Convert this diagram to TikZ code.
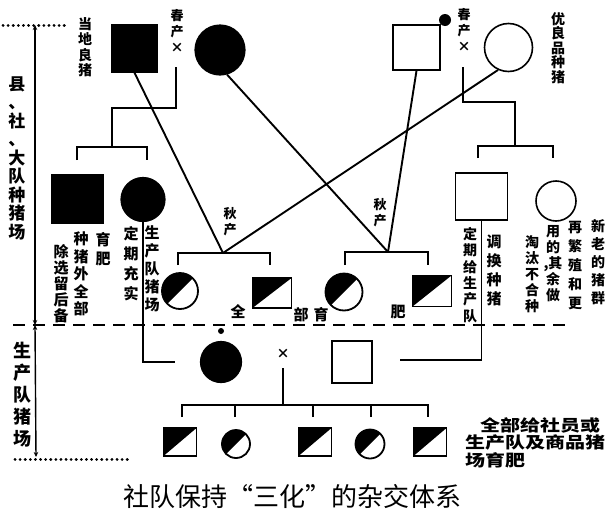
\documentclass[tikz,border=0pt]{standalone}
\usepackage{fontspec}
\setmainfont{Noto Sans CJK SC}
\usepackage{graphicx}
\usetikzlibrary{arrows.meta}
\begin{document}
\begin{tikzpicture}[x=1pt,y=-1pt,
  ln/.style={line width=1.7pt},
  xln/.style={line width=1.9pt},
  blksq/.style={rectangle,fill=black,draw=black,line width=1.5pt,inner sep=0pt},
  whtsq/.style={rectangle,draw=black,fill=white,line width=1.6pt,inner sep=0pt},
  blkci/.style={circle,fill=black,draw=black,line width=1.2pt,inner sep=0pt},
  whtci/.style={circle,draw=black,fill=white,line width=1.6pt,inner sep=0pt},
  halfsq/.style={rectangle,draw=black,line width=1.8pt,inner sep=0pt,
    path picture={\fill[black] (path picture bounding box.south west) -- (path picture bounding box.north west) -- (path picture bounding box.north east) -- cycle;}},
  halfci/.style={circle,draw=black,line width=1.8pt,inner sep=0pt,
    path picture={\fill[black] (path picture bounding box.south west) -- (path picture bounding box.north west) -- (path picture bounding box.north east) -- cycle;}},
  vt/.style={align=center,inner sep=0pt},
  lbl/.style={inner sep=0pt},
  dim/.style={line width=1.4pt,{Stealth[length=5pt,width=4.5pt]}-{Stealth[length=5pt,width=4.5pt]}},
  dotl/.style={line width=3pt,line cap=round,dash pattern=on 0.1pt off 5pt},
  dashline/.style={line width=1.6pt,dash pattern=on 12pt off 8pt}
]
\useasboundingbox (0,0) rectangle (611,517);

% ---------- row 1 ----------
\node[blksq,minimum width=45pt,minimum height=47pt] (A) at (134.5,48.5) {};
\node[blkci,minimum size=50pt] (B) at (220,50) {};
\node[whtsq,minimum width=47pt,minimum height=45pt] (C) at (416.5,47.5) {};
\node[whtci,minimum size=48pt] (D) at (508.5,47.5) {};
\node[circle,fill=black,inner sep=0pt,minimum size=12pt] (dotA) at (445,20) {};

\node[vt,font=\fontsize{14}{15.5}\selectfont\bfseries] (t1) at (85,47) {当\\地\\良\\猪};
\node[vt,font=\fontsize{13}{16}\selectfont\bfseries] (t2) at (177,31) {春\\产\\×};
\node[vt,font=\fontsize{13}{16}\selectfont\bfseries] (t3) at (464,30) {春\\产\\×};
\node[vt,font=\fontsize{14}{14.5}\selectfont\bfseries] (t4) at (558,48) {优\\良\\品\\种\\猪};

% ---------- row 2 ----------
\node[blksq,minimum width=51pt,minimum height=48pt] (E) at (77.5,199) {};
\node[blkci,minimum size=44pt] (F) at (143,199.5) {};
\node[whtsq,minimum width=52pt,minimum height=47pt] (G) at (481.5,196.5) {};
\node[whtci,minimum size=40pt] (H) at (556,201) {};

% left family bracket
\coordinate (lfa) at (176,67);
\coordinate (lfk) at (112,108);
\coordinate (lbj) at (112,147);
\coordinate (lbl) at (77,160);
\coordinate (lbr) at (147,160);
\draw[ln] (lfa) |- (lfk) -- (lbj);
\draw[ln] (lbl) |- (lbj) -| (lbr);

% right family bracket
\coordinate (rfa) at (463,67);
\coordinate (rfk) at (515,102);
\coordinate (rbj) at (515,146);
\coordinate (rbl) at (478,158);
\coordinate (rbr) at (553,158);
\draw[ln] (rfa) |- (rfk) -- (rbj);
\draw[ln] (rbl) |- (rbj) -| (rbr);

% ---------- row 3 ----------
\node[halfci,minimum size=36pt] (I1) at (180,291) {};
\node[halfsq,minimum width=39pt,minimum height=30pt] (I2) at (272,293) {};
\node[halfci,minimum size=37pt] (I3) at (344,292) {};
\node[halfsq,minimum width=39pt,minimum height=31pt] (I4) at (432,291) {};

\coordinate (P) at (223,253);
\coordinate (pl) at (178,265);
\coordinate (pr) at (270,265);
\draw[ln] (pl) |- (P) -| (pr);
\coordinate (Q) at (388,252);
\coordinate (ql) at (345,265);
\coordinate (qr) at (428,265);
\draw[ln] (ql) |- (Q) -| (qr);

% crossing lines
\draw[xln] (A.south) -- (P);
\draw[xln] (D.245) -- (P);
\draw[xln] (B.286) -- (Q);
\draw[xln] (C.south) -- (Q);

\node[vt,font=\fontsize{13}{16}\selectfont\bfseries] (q1) at (230,222) {秋\\产};
\node[vt,font=\fontsize{13}{16}\selectfont\bfseries] (q2) at (380,213) {秋\\产};

\node[lbl,font=\fontsize{15}{15}\selectfont\bfseries] (w1) at (238,312) {全};
\node[lbl,font=\fontsize{15}{15}\selectfont\bfseries] (w2) at (301,315) {部};
\node[lbl,font=\fontsize{15}{15}\selectfont\bfseries] (w3) at (321,315) {育};
\node[lbl,font=\fontsize{15}{15}\selectfont\bfseries] (w4) at (398,312) {肥};

% annotations under row 2
\node[vt,font=\fontsize{15}{16}\selectfont\bfseries] (a1) at (61,284) {除\\选\\留\\后\\备};
\node[vt,font=\fontsize{15}{17.5}\selectfont\bfseries] (a2) at (81,274) {种\\猪\\外\\全\\部};
\node[vt,font=\fontsize{15}{19}\selectfont\bfseries] (a3) at (103,249) {育\\肥};
\node[vt,font=\fontsize{15}{20}\selectfont\bfseries] (b1) at (131,264) {定\\期\\充\\实};
\node[vt,font=\fontsize{15}{18}\selectfont\bfseries] (b2) at (152,269) {生\\产\\队\\猪\\场};
\node[vt,font=\fontsize{14}{16.4}\selectfont\bfseries] (c1) at (470,275) {定\\期\\给\\生\\产\\队};
\node[vt,font=\fontsize{15}{19}\selectfont\bfseries] (c2) at (494,270) {调\\换\\种\\猪};
\node[vt,font=\fontsize{14}{16}\selectfont\bfseries] (d1) at (532,274) {淘\\汰\\不\\合\\种};
\node[vt,font=\fontsize{14}{16}\selectfont\bfseries] (d2) at (553,264) {用\\的\\,其\\余\\做};
\node[vt,font=\fontsize{14}{19}\selectfont\bfseries] (d3) at (575,266) {再\\繁\\殖\\和\\更};
\node[vt,font=\fontsize{14}{18}\selectfont\bfseries] (d4) at (598,262) {新\\老\\的\\猪\\群};

% ---------- left scale ----------
\node[vt,font=\fontsize{17}{18.5}\selectfont\bfseries] (s1) at (17,158) {县\\、\\社\\、\\大\\队\\种\\猪\\场};
\node[vt,font=\fontsize{18}{22}\selectfont\bfseries] (s2) at (22,395) {生\\产\\队\\猪\\场};
\coordinate (v1) at (35,25);
\coordinate (v2) at (35,325);
\coordinate (v3) at (36,457);
\draw[dim] (v1) -- (v2);
\draw[dim] (v2) -- (v3);
\coordinate (o1) at (3,25);
\coordinate (o2) at (67,25);
\draw[dotl] (o1) -- (o2);
\coordinate (o3) at (15,459);
\coordinate (o4) at (132,459);
\draw[dotl] (o3) -- (o4);
\coordinate (h1) at (13,325);
\coordinate (h2) at (565,325);
\draw[dashline] (h1) -- (h2);

% ---------- row 4 ----------
\node[blkci,minimum size=41pt] (J) at (221,362) {};
\node[circle,fill=black,inner sep=0pt,minimum size=6pt] (dotB) at (221,331) {};
\node[whtsq,minimum width=40pt,minimum height=42pt] (K) at (352,362) {};
\node[lbl,font=\fontsize{13}{13}\selectfont\bfseries] (X) at (283,354) {×};
\coordinate (fe) at (175,362);
\draw[ln] (F.south) |- (fe);
\coordinate (ge) at (400,360);
\draw[ln] (G.south) |- (ge);

% ---------- row 5 ----------
\coordinate (xs) at (283,368);
\coordinate (R) at (283,405);
\coordinate (r1) at (182,417);
\coordinate (r2) at (235,417);
\coordinate (r3) at (313,417);
\coordinate (r4) at (371,417);
\coordinate (r5) at (428,417);
\draw[ln] (xs) -- (R);
\draw[ln] (r1) |- (R) -| (r5);
\draw[ln] (r2) -- (r2 |- R);
\draw[ln] (r3) -- (r3 |- R);
\draw[ln] (r4) -- (r4 |- R);

\node[halfsq,minimum width=33pt,minimum height=28pt] (L1) at (180,442) {};
\node[halfci,minimum size=28pt] (L2) at (236,444) {};
\node[halfsq,minimum width=33pt,minimum height=28pt] (L3) at (315,442) {};
\node[halfci,minimum size=29pt] (L4) at (370,444) {};
\node[halfsq,minimum width=33pt,minimum height=28pt] (L5) at (430,442) {};

\node[lbl,anchor=west,font=\fontsize{16}{16}\selectfont\bfseries] (n1) at (480,425) {\scalebox{1.25}[1]{全部给社员或}};
\node[lbl,anchor=west,font=\fontsize{16}{16}\selectfont\bfseries] (n2) at (465,442) {\scalebox{1.25}[1]{生产队及商品猪}};
\node[lbl,anchor=west,font=\fontsize{16}{16}\selectfont\bfseries] (n3) at (465,460) {\scalebox{1.25}[1]{场育肥}};

% caption
\node[lbl,font=\fontsize{26}{26}\selectfont] (cap) at (292,497) {社队保持“三化”的杂交体系};
\end{tikzpicture}
\end{document}
